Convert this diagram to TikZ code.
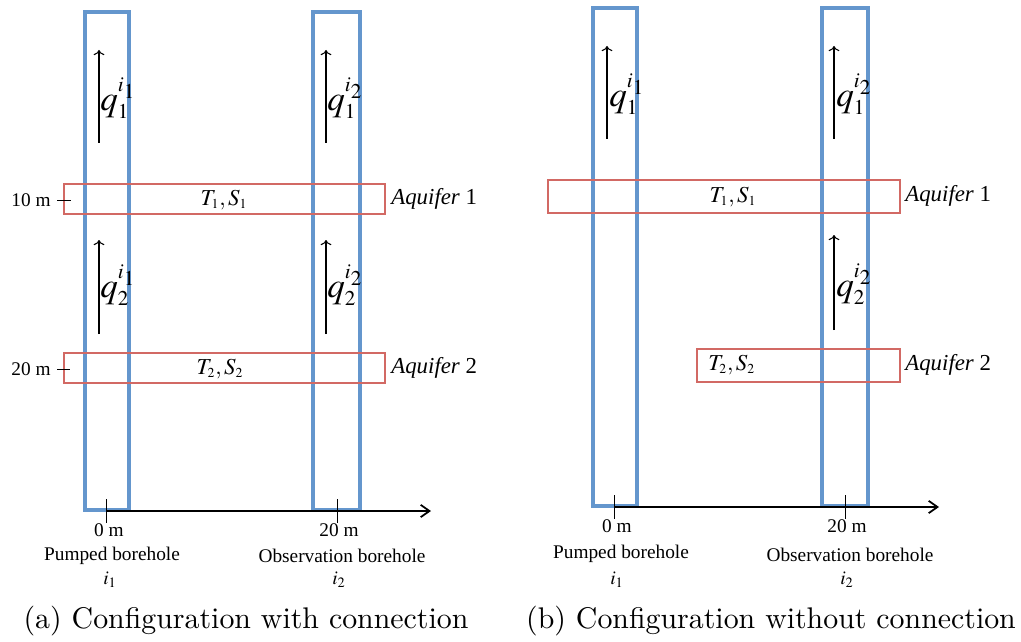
\documentclass[tikz,border=0pt]{standalone}
\usepackage{mathptmx}
\usepackage{fontspec}
\renewcommand{\rmdefault}{lmr}
\newfontfamily\tnr{Liberation Serif}
\usepackage{tikz}
\usetikzlibrary{arrows,arrows.meta,positioning,calc}
\definecolor{bhblue}{RGB}{100,150,205}
\definecolor{aqred}{RGB}{210,105,100}
\tikzstyle{borehole}=[draw=bhblue,line width=2.3pt]
\tikzstyle{aquifer}=[draw=aqred,line width=0.75pt]
\tikzstyle{flow}=[->,line width=0.6pt]
\tikzstyle{axis}=[-{Straight Barb[length=5pt,width=7pt]},line width=1pt]
\tikzstyle{lbl}=[font=\tnr\fontsize{11}{13}\selectfont,inner sep=0pt]
\tikzstyle{tslbl}=[font=\fontsize{13}{15}\selectfont,inner sep=0pt]
\tikzstyle{aqlbl}=[font=\tnr\fontsize{13}{15}\selectfont,inner sep=0pt,anchor=west]
\tikzstyle{qlbl}=[font=\fontsize{20}{22}\selectfont,inner sep=0pt,anchor=west]
\tikzstyle{caption}=[inner sep=0pt]
\newcommand{\subcap}[1]{\scalebox{1.7}{\fontsize{10}{12}\selectfont #1}}
% flow q_k^{i_j} and aquifer parameters T_k,S_k
\newcommand{\qflow}[2]{$q_{\scriptscriptstyle #1}^{\scriptscriptstyle i_#2}$}
\newcommand{\tspar}[1]{$T_{\scriptscriptstyle #1},S_{\scriptscriptstyle #1}$}

\begin{document}
\begin{tikzpicture}[x=0.02cm,y=-0.02cm]
\useasboundingbox (0,0) rectangle (1021,642);

% (a) both boreholes cross both aquifers
\begin{scope}
  \draw[borehole] (85,12) rectangle (129,510);
  \draw[borehole] (313,12) rectangle (360,510);
  \draw[aquifer] (64,184) rectangle (385,214);
  \draw[aquifer] (64,353) rectangle (385,383);
  \node[tslbl] (ts1a) at (224,200) {\tspar{1}};
  \node[tslbl] (ts2a) at (220,369) {\tspar{2}};
  \node[aqlbl] (aq1a) at (391,199) {\itshape Aquifer\/\ \upshape 1};
  \node[aqlbl] (aq2a) at (391,368) {\itshape Aquifer\/\ \upshape 2};
  \node[lbl,anchor=east] (d10) at (51,200) {10 m};
  \node[lbl,anchor=east] (d20) at (51,369) {20 m};
  \draw (57,200) -- (71,200);
  \draw (57,369) -- (70,369);
  % flow arrows
  \draw[flow] (99,143) -- (99,50);
  \draw[flow] (326,143) -- (326,50);
  \draw[flow] (99,334) -- (99,240);
  \draw[flow] (326,334) -- (326,240);
  \node[qlbl] (q11a) at (100,98) {\qflow{1}{1}};
  \node[qlbl] (q12a) at (327,98) {\qflow{1}{2}};
  \node[qlbl] (q21a) at (100,285) {\qflow{2}{1}};
  \node[qlbl] (q22a) at (327,285) {\qflow{2}{2}};
  % distance axis
  \coordinate (oa) at (106,511);
  \coordinate (ea) at (431,511);
  \draw[axis] (oa) -- (ea);
  \draw (106,499) -- (106,523);
  \draw (337,499) -- (337,523);
  \node[lbl] (x0a) at (109,530) {0 m};
  \node[lbl] (x20a) at (339,530) {20 m};
  \node[lbl] (pba) at (112,556) {Pumped borehole};
  \node[lbl] (i1a) at (110,580) {$i_1$};
  \node[lbl] (oba) at (342,556) {Observation borehole};
  \node[lbl] (i2a) at (339,580) {$i_2$};
\end{scope}
\node[caption] (capa) at (246,621) {\subcap{(a) Configuration with connection}};

% (b) pumped borehole stops above aquifer 2
\begin{scope}[shift={(508,-4)}]
  \draw[borehole] (85,12) rectangle (129,510);
  \draw[borehole] (314,12) rectangle (360,510);
  \draw[aquifer] (40,184) rectangle (392,217);
  \draw[aquifer] (189,353) rectangle (392,386);
  \node[tslbl] (ts1b) at (225,201) {\tspar{1}};
  \node[tslbl,anchor=west] (ts2b) at (200,369) {\tspar{2}};
  \node[aqlbl] (aq1b) at (397,200) {\itshape Aquifer\/\ \upshape 1};
  \node[aqlbl] (aq2b) at (397,369) {\itshape Aquifer\/\ \upshape 2};
  % flow arrows
  \draw[flow] (99,143) -- (99,50);
  \draw[flow] (326,143) -- (326,50);
  \draw[flow] (326,334) -- (326,239);
  \node[qlbl] (q11b) at (101,98) {\qflow{1}{1}};
  \node[qlbl] (q12b) at (328,98) {\qflow{1}{2}};
  \node[qlbl] (q22b) at (328,288) {\qflow{2}{2}};
  % distance axis
  \coordinate (ob) at (106,511);
  \coordinate (eb) at (431,511);
  \draw[axis] (ob) -- (eb);
  \draw (106,499) -- (106,523);
  \draw (337,499) -- (337,523);
  \node[lbl] (x0b) at (109,530) {0 m};
  \node[lbl] (x20b) at (339,530) {20 m};
  \node[lbl] (pbb) at (113,558) {Pumped borehole};
  \node[lbl] (i1b) at (109,584) {$i_1$};
  \node[lbl] (obb) at (342,559) {Observation borehole};
  \node[lbl] (i2b) at (339,584) {$i_2$};
\end{scope}
\node[caption] (capb) at (771,621) {\subcap{(b) Configuration without connection}};
\end{tikzpicture}
\end{document}
